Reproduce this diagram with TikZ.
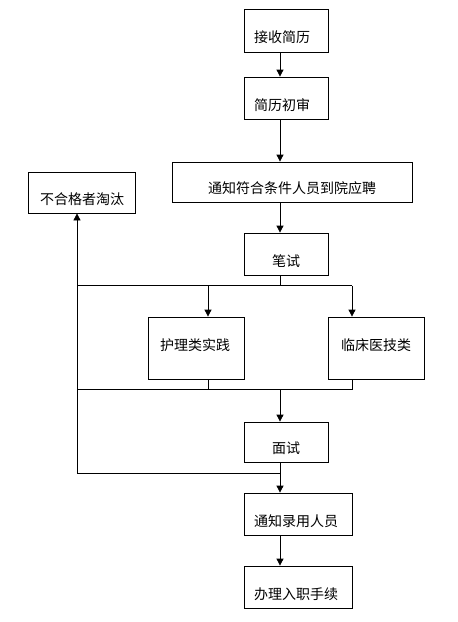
\documentclass[tikz,border=0pt]{standalone}
\usepackage{fontspec}
\newfontfamily\cjk{Noto Sans CJK SC}
\usetikzlibrary{arrows.meta}
\newcommand{\tx}[3]{\makebox[0pt]{\hspace*{#1pt}\raisebox{-#2pt}[0pt][0pt]{#3}}}
\tikzset{
  box/.style={draw=black, line width=0.8pt, fill=white, inner sep=0pt, font=\cjk\fontsize{14}{16}\selectfont},
  conn/.style={draw=black, line width=0.8pt},
  arr/.style={conn, -{Triangle[width=7pt,length=7pt]}}
}
\begin{document}
\begin{tikzpicture}[x=1pt,y=-1pt]
\useasboundingbox (0,0) rectangle (458,622);
\node[box, minimum width=84pt, minimum height=43pt] (b1) at (286,30.5) {\tx{-8}{12.3}{接收简历}};
\node[box, minimum width=84pt, minimum height=42pt] (b2) at (286,98) {\tx{-8}{12.3}{简历初审}};
\node[box, minimum width=240pt, minimum height=40pt] (b3) at (292,182) {\tx{0}{11.3}{通知符合条件人员到院应聘}};
\node[box, minimum width=107pt, minimum height=41pt] (tt) at (81.5,192.5) {\tx{1}{11.8}{不合格者淘汰}};
\node[box, minimum width=84pt, minimum height=42pt] (bs) at (286,254) {\tx{0}{12.3}{笔试}};
\node[box, minimum width=96pt, minimum height=62pt] (hl) at (196,348) {\tx{-2}{2.3}{护理类实践}};
\node[box, minimum width=96pt, minimum height=62pt] (lc) at (376,348) {\tx{0}{2.3}{临床医技类}};
\node[box, minimum width=84pt, minimum height=40pt] (ms) at (286,442) {\tx{0}{11.3}{面试}};
\node[box, minimum width=108pt, minimum height=42pt] (ly) at (298,514) {\tx{-4}{12.3}{通知录用人员}};
\node[box, minimum width=108pt, minimum height=42pt] (bl) at (298,587) {\tx{-4}{12.3}{办理入职手续}};
\coordinate (cx) at (280,0);
\coordinate (hx) at (208,0);
\coordinate (busT) at (77,285.5);
\coordinate (busTR) at (352,285.5);
\coordinate (busB) at (77,389.5);
\coordinate (busBR) at (352,389.5);
\coordinate (ret) at (77,473);
\draw[arr] (b1.south -| cx) -- (b2.north -| cx);
\draw[arr] (b2.south -| cx) -- (b3.north -| cx);
\draw[arr] (b3.south -| cx) -- (bs.north -| cx);
\draw[conn] (bs.south -| cx) -- (cx |- busT);
\draw[conn] (busT) -- (busTR);
\draw[arr] (hx |- busT) -- (hx |- hl.north);
\draw[arr] (busTR) -- (busTR |- lc.north);
\draw[conn] (hl.south -| hx) -- (hx |- busB);
\draw[conn] (lc.south -| busBR) -- (busBR);
\draw[conn] (busB) -- (busBR);
\draw[arr] (cx |- busB) -- (ms.north -| cx);
\draw[arr] (ms.south -| cx) -- (cx |- ret) -- (ret) -- (tt.south -| ret);
\draw[arr] (ms.south -| cx) -- (ly.north -| cx);
\draw[arr] (ly.south -| cx) -- (bl.north -| cx);
\end{tikzpicture}
\end{document}
